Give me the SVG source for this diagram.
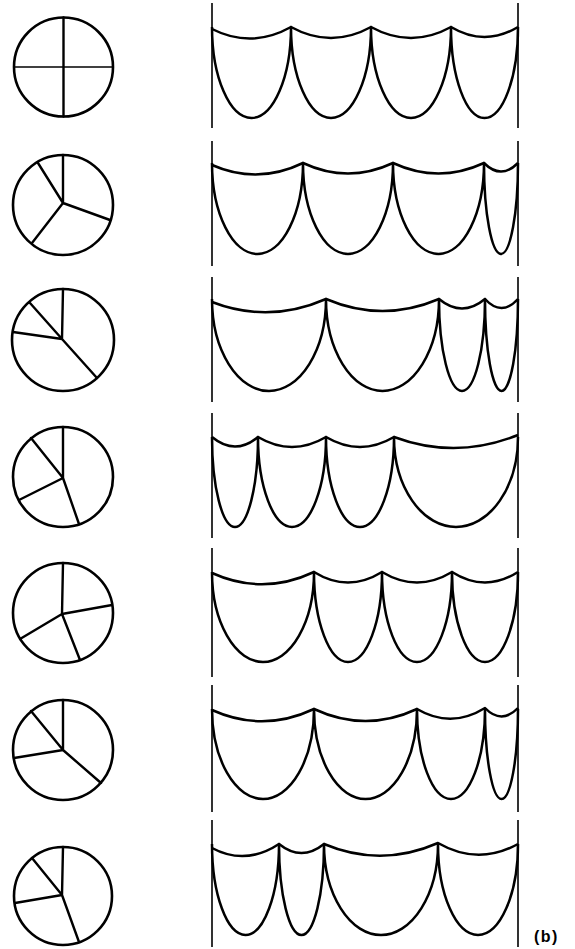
<svg xmlns="http://www.w3.org/2000/svg" width="575" height="949" viewBox="0 0 575 949">
<style>
.c{fill:none;stroke:#000;stroke-width:2.6}
.s{fill:none;stroke:#000;stroke-width:2.4;stroke-linecap:round}
.t{fill:none;stroke:#000;stroke-width:1.5}
.bar{fill:none;stroke:#000;stroke-width:1.6}
.cv{fill:none;stroke:#000;stroke-width:2.5;stroke-linejoin:round}
.lbl{font-family:"Liberation Sans",Arial,sans-serif;font-size:16px;font-weight:bold;fill:#000}
</style>
<rect width="575" height="949" fill="#fff"/>
<g id="circle1"><circle class="c" cx="63.5" cy="67" r="49.5"/><path class="s" d="M63.5 17.5V116.5"/><path class="t" d="M14 67H113"/></g>
<g id="circle2"><circle class="c" cx="63" cy="205" r="50"/><path class="s" d="M63 203V155M63 203L38 163M63 203L110 220M63 203L32 243"/></g>
<g id="circle3"><circle class="c" cx="63" cy="340" r="51"/><path class="s" d="M62 339L63 289M62 339L30 303M62 339L13 332M62 339L97 378"/></g>
<g id="circle4"><circle class="c" cx="63" cy="477" r="50"/><path class="s" d="M63 478V427M63 478L31 438M63 478L19 500M63 478L79 524"/></g>
<g id="circle5"><circle class="c" cx="63" cy="613" r="50"/><path class="s" d="M62 614L63 563M62 614L112 605M62 614L20 639M62 614L80 660"/></g>
<g id="circle6"><circle class="c" cx="63" cy="750" r="50"/><path class="s" d="M63 750V700M63 750L31 711M63 750L14 758M63 750L101 783"/></g>
<g id="circle7"><circle class="c" cx="63" cy="896" r="49"/><path class="s" d="M62 895L63 847M62 895L32 858M62 895L15 903M62 895L79 942"/></g>

<g id="panel1">
<path class="bar" d="M212 3V128M518 3V128"/>
<path class="cv" d="M212 29Q251.5 49 291 27Q331 49 371 27Q411 49 451 27Q484.5 47 518 27"/>
<path class="cv" d="M212 27A39.5 91 0 0 0 291 27A40 91 0 0 0 371 27A40 91 0 0 0 451 27A33.5 91 0 0 0 518 27"/>
</g>
<g id="panel2">
<path class="bar" d="M212 141V266M518 141V266"/>
<path class="cv" d="M212 165Q257.5 185 303 163Q348 184 393 163Q438.5 184 484 163Q501 180 518 163"/>
<path class="cv" d="M212 163A45.5 91 0 0 0 303 163A45 91 0 0 0 393 163A45.5 91 0 0 0 484 163A17 91 0 0 0 518 163"/>
</g>
<g id="panel3">
<path class="bar" d="M212 277V402M518 277V402"/>
<path class="cv" d="M212 302Q269 324 326 299Q382.5 323 439 299Q462 318 485 299Q501.5 317 518 299"/>
<path class="cv" d="M212 299A57 92 0 0 0 326 299A56.5 92 0 0 0 439 299A23 92 0 0 0 485 299A16.5 92 0 0 0 518 299"/>
</g>
<g id="panel4">
<path class="bar" d="M212 413V538M518 413V538"/>
<path class="cv" d="M212 437Q235 456 258 437Q292 457 326 437Q360 457 394 437Q456 460 518 435"/>
<path class="cv" d="M212 437A23 90 0 0 0 258 437A34 90 0 0 0 326 437A34 90 0 0 0 394 437A62 90 0 0 0 518 437"/>
</g>
<g id="panel5">
<path class="bar" d="M212 548V677M518 548V677"/>
<path class="cv" d="M212 573Q263 596 314 572Q348 593 382 572Q417 593 452 572Q485 593 518 572"/>
<path class="cv" d="M212 572A51 90 0 0 0 314 572A34 90 0 0 0 382 572A35 90 0 0 0 452 572A33 90 0 0 0 518 572"/>
</g>
<g id="panel6">
<path class="bar" d="M212 685V812M518 685V812"/>
<path class="cv" d="M212 710Q263 733 314 709Q365.5 733 417 709Q451 729 485 708Q501.5 725 518 708"/>
<path class="cv" d="M212 709A51 90 0 0 0 314 709A51.5 90 0 0 0 417 709A34 90 0 0 0 485 709A16.5 90 0 0 0 518 709"/>
</g>
<g id="panel7">
<path class="bar" d="M212 820V947M518 820V947"/>
<path class="cv" d="M212 848Q245.5 866 279 844Q301.5 862 324 844Q381 868 438 843Q478 866 518 844"/>
<path class="cv" d="M212 844A33.5 91 0 0 0 279 844A22.5 91 0 0 0 324 844A57 91 0 0 0 438 844A40 91 0 0 0 518 844"/>
</g>
<g id="connectors"></g>
<text class="lbl" x="534" y="942" letter-spacing="1.5">(b)</text>
</svg>
